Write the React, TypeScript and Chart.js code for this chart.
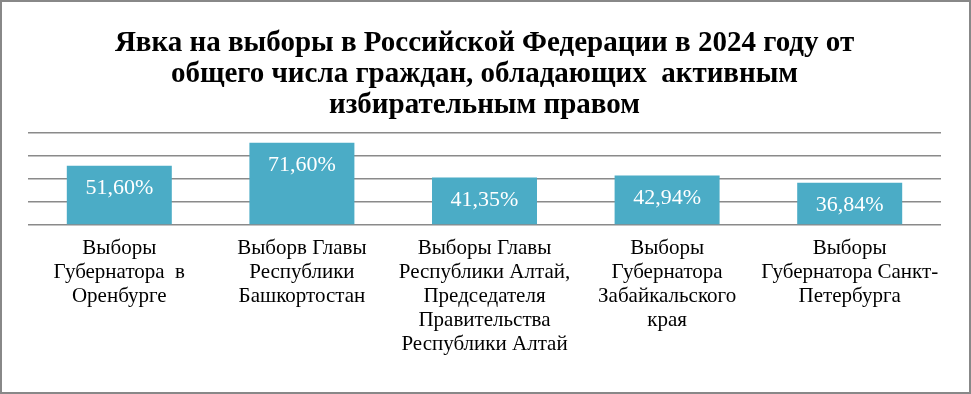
import React, { useEffect, useRef } from "react";
import { Chart, registerables } from "chart.js";

Chart.register(...registerables);

const titleLines = [
  "Явка на выборы в Российской Федерации в 2024 году от",
  "общего числа граждан, обладающих  активным",
  "избирательным правом",
];

const categories: string[][] = [
  ["Выборы", "Губернатора  в", "Оренбурге"],
  ["Выборв Главы", "Республики", "Башкортостан"],
  ["Выборы Главы", "Республики Алтай,", "Председателя", "Правительства", "Республики Алтай"],
  ["Выборы", "Губернатора", "Забайкальского", "края"],
  ["Выборы", "Губернатора Санкт-", "Петербурга"],
];

const turnout = [51.6, 71.6, 41.35, 42.94, 36.84];
const valueLabels = ["51,60%", "71,60%", "41,35%", "42,94%", "36,84%"];

const yMin = 0;
const yMax = 80;
const yStep = 20;

const SERIF = "'Liberation Serif', 'Times New Roman', serif";

const borderPlugin = {
  id: "frameBorder",
  afterDraw(chart: any) {
    const { ctx, width, height } = chart;
    ctx.save();
    ctx.strokeStyle = "#888888";
    ctx.lineWidth = 2;
    ctx.strokeRect(1, 1, width - 2, height - 2);
    ctx.restore();
  },
};

const valueLabelPlugin = {
  id: "valueLabels",
  afterDatasetsDraw(chart: any) {
    const { ctx } = chart;
    const meta = chart.getDatasetMeta(0);
    ctx.save();
    ctx.fillStyle = "#ffffff";
    ctx.font = `22px ${SERIF}`;
    ctx.textAlign = "center";
    ctx.textBaseline = "middle";
    meta.data.forEach((bar: any, i: number) => {
      ctx.fillText(valueLabels[i], bar.x, bar.y + 23);
    });
    ctx.restore();
  },
};

export default function App() {
  const canvasRef = useRef<HTMLCanvasElement | null>(null);

  useEffect(() => {
    if (!canvasRef.current) return;
    const chart = new Chart(canvasRef.current, {
      type: "bar",
      data: {
        labels: categories,
        datasets: [
          {
            data: turnout,
            backgroundColor: "#4BACC6",
            borderWidth: 0,
            categoryPercentage: 1,
            barPercentage: 0.575,
          },
        ],
      },
      options: {
        animation: false,
        responsive: false,
        maintainAspectRatio: false,
        layout: {
          padding: { left: 28, right: 30, top: 0, bottom: 27 },
        },
        plugins: {
          legend: { display: false },
          tooltip: { enabled: false },
          title: {
            display: true,
            text: titleLines,
            color: "#000000",
            font: { family: SERIF, size: 29, weight: "bold", lineHeight: 31 / 29 },
            padding: { top: 28, bottom: 12 },
          },
        },
        scales: {
          x: {
            grid: { display: false, drawTicks: false },
            border: { display: false },
            ticks: {
              color: "#000000",
              font: { family: SERIF, size: 21, lineHeight: 24 / 21 },
              padding: 11,
              maxRotation: 0,
              autoSkip: false,
            },
          },
          y: {
            min: yMin,
            max: yMax,
            grid: { color: "#8a8a8a", lineWidth: 1.5, drawTicks: false },
            border: { display: false },
            ticks: { display: false, stepSize: yStep },
          },
        },
      },
      plugins: [valueLabelPlugin, borderPlugin],
    });
    return () => chart.destroy();
  }, []);

  return (
    <div style={{ position: "absolute", left: 0, top: 0, width: 971, height: 394, background: "#fff" }}>
      <canvas ref={canvasRef} width={971} height={394} style={{ display: "block" }} />
    </div>
  );
}
